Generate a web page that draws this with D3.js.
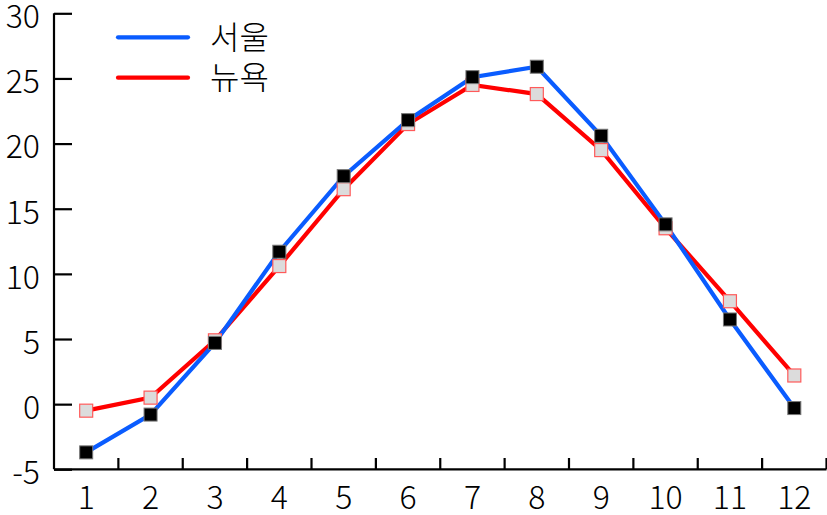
<!DOCTYPE html>
<html><head><meta charset="utf-8">
<script src="https://cdn.jsdelivr.net/npm/d3@7"></script>
<style>body{margin:0;background:#fff}svg{display:block}text{font-family:"Noto Sans CJK KR","Noto Sans",sans-serif;font-weight:300}</style>
</head><body><svg id="c" width="827" height="515"></svg>
<script>
const months = ["1","2","3","4","5","6","7","8","9","10","11","12"];
const seoul = [-3.7,-0.8,4.7,11.7,17.5,21.8,25.1,25.9,20.6,13.8,6.5,-0.3];
const newyork = [-0.5,0.5,4.9,10.6,16.5,21.5,24.5,23.8,19.5,13.5,7.9,2.2];
const seriesNames = ["서울","뉴욕"];
const yTicks = [-5,0,5,10,15,20,25,30];

const svg = d3.select("#c");
const x = d3.scaleBand().domain(months).range([54, 826.5]);
const y = d3.scaleLinear().domain([-5, 30]).range([469.3, 13.3]);

// axes
const xa = svg.append("g").attr("transform","translate(0,469.3)")
  .call(d3.axisBottom(x).tickSize(0).tickPadding(17));
xa.select(".domain").attr("stroke","#000").attr("stroke-width",2.2).attr("d","M54,0H826.5");
xa.selectAll("text").attr("font-size",32).attr("fill","#000").attr("dy","0.71em")
  .attr("font-family","'Noto Sans CJK KR','Noto Sans',sans-serif").attr("font-weight",300);
// band boundary ticks (inward)
const bounds = months.slice(1).map(m => x(m)).concat([x.range()[1]]);
svg.append("g").selectAll("line").data(bounds).join("line")
  .attr("x1",d=>d).attr("x2",d=>d).attr("y1",469.3).attr("y2",458)
  .attr("stroke","#000").attr("stroke-width",2.2);

const ya = svg.append("g").attr("transform","translate(54,0)")
  .call(d3.axisLeft(y).tickValues(yTicks).tickSize(-18).tickPadding(14).tickFormat(d => String(d)));
ya.select(".domain").attr("stroke","#000").attr("stroke-width",2.2).attr("d","M0,13.3V469.3");
ya.selectAll(".tick line").attr("stroke","#000").attr("stroke-width",2.2);
ya.selectAll("text").attr("font-size",32).attr("fill","#000").attr("dy","0.45em")
  .attr("font-family","'Noto Sans CJK KR','Noto Sans',sans-serif").attr("font-weight",300);

const line = d3.line().x((d,i)=>x(months[i])+x.bandwidth()/2).y(d=>y(d));
svg.append("path").datum(newyork).attr("d",line).attr("fill","none").attr("stroke","#ff0000").attr("stroke-width",4.2);
svg.append("path").datum(seoul).attr("d",line).attr("fill","none").attr("stroke","#0a5cff").attr("stroke-width",4.2);

const s = 13;
svg.append("g").selectAll("rect").data(newyork).join("rect")
  .attr("x",(d,i)=>x(months[i])+x.bandwidth()/2-s/2).attr("y",d=>y(d)-s/2)
  .attr("width",s).attr("height",s).attr("fill","#dcdcdc").attr("stroke","#ff5a5a").attr("stroke-width",1.2);
svg.append("g").selectAll("rect").data(seoul).join("rect")
  .attr("x",(d,i)=>x(months[i])+x.bandwidth()/2-s/2).attr("y",d=>y(d)-s/2)
  .attr("width",s).attr("height",s).attr("fill","#000").attr("stroke","#777").attr("stroke-width",1);

// legend
const leg = [{n:seriesNames[0],c:"#0a5cff",y:37.3},{n:seriesNames[1],c:"#ff0000",y:77.7}];
const lg = svg.append("g");
leg.forEach(l=>{
  lg.append("line").attr("x1",118).attr("x2",188).attr("y1",l.y).attr("y2",l.y)
    .attr("stroke",l.c).attr("stroke-width",4.2).attr("stroke-linecap","round");
  lg.append("text").attr("x",210).attr("y",l.y).attr("dy","0.36em").attr("font-size",32)
    .attr("font-family","'Noto Sans CJK KR',sans-serif").attr("font-weight",300).text(l.n);
});
</script></body></html>
